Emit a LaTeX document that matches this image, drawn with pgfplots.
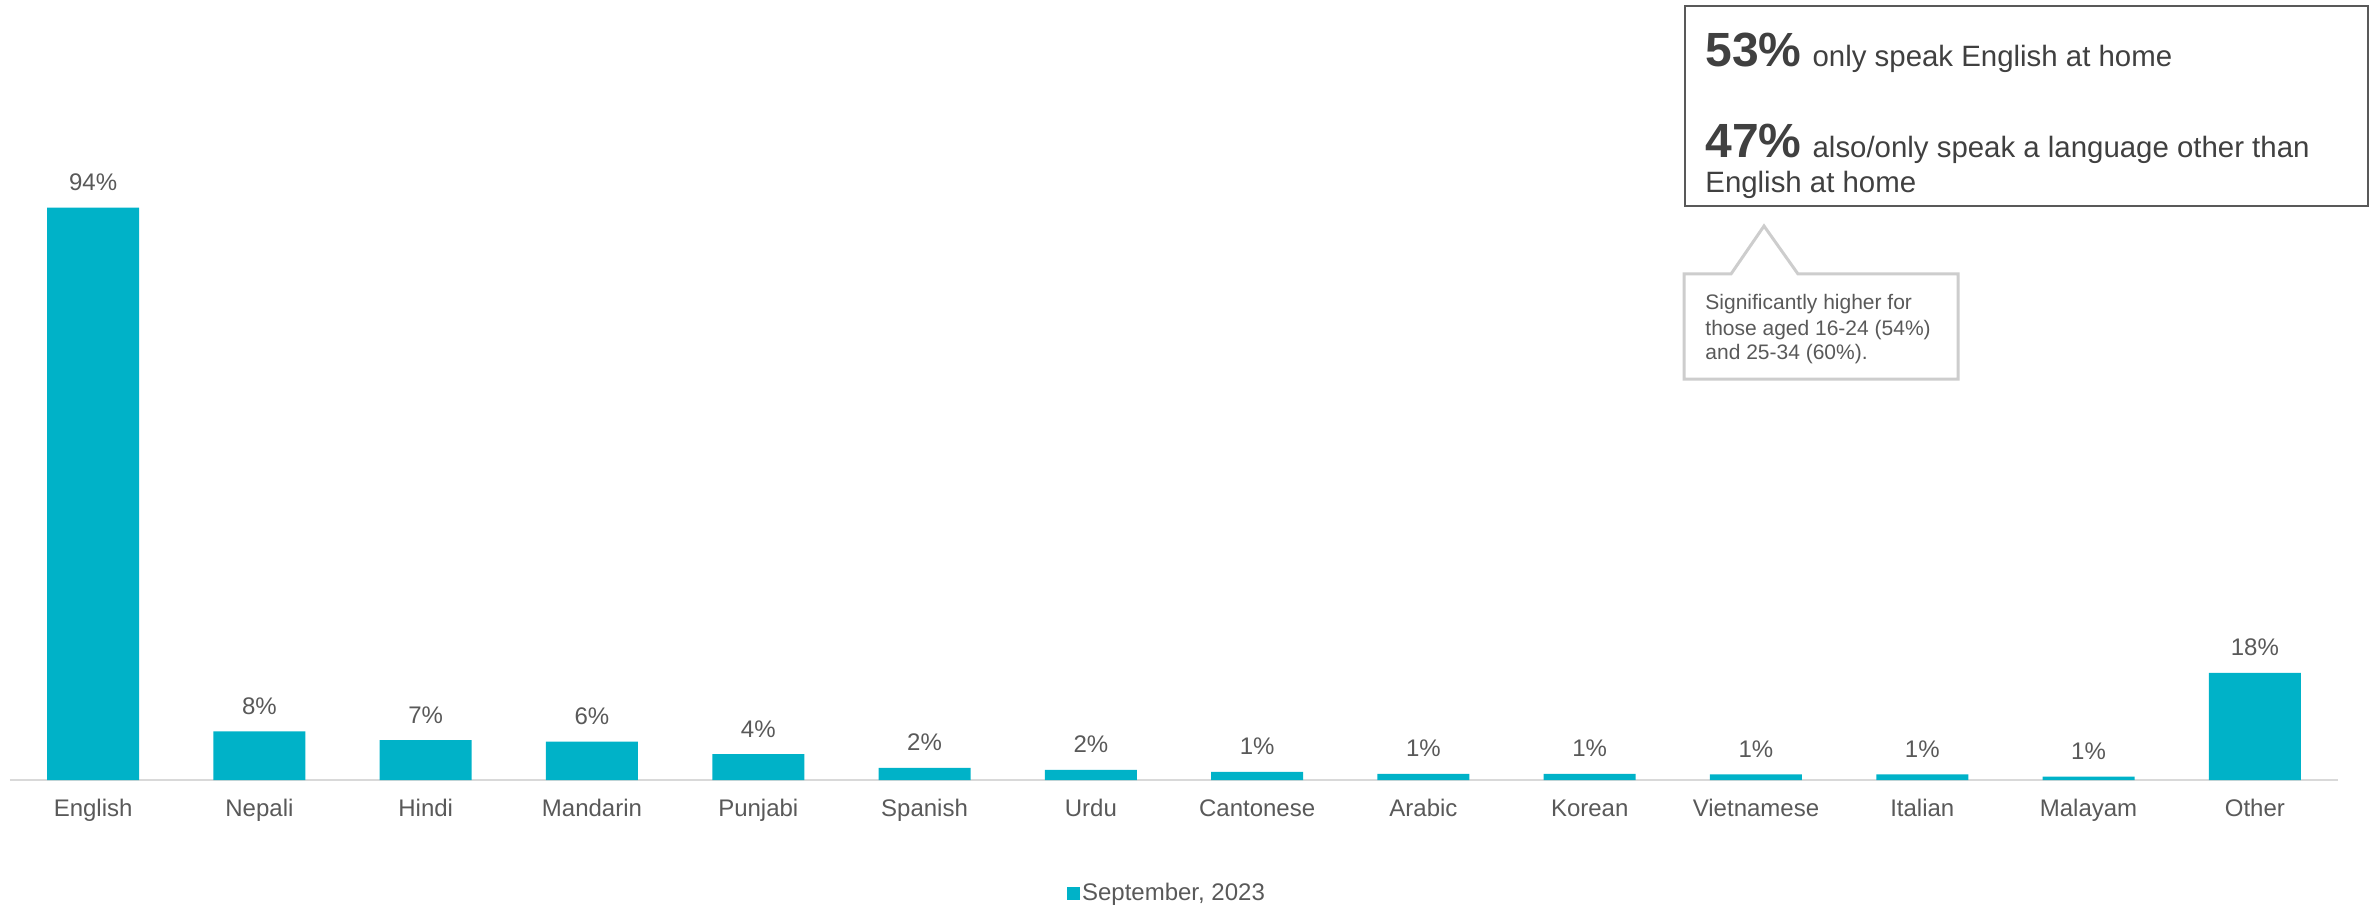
\documentclass[border=0pt]{standalone}
\usepackage{fontspec}
\setmainfont{Liberation Sans}
\usepackage{pgfplots}
\pgfplotsset{compat=1.18}

\definecolor{barteal}{RGB}{0,178,200}
\definecolor{labelgrey}{RGB}{89,89,89}
\definecolor{darktext}{RGB}{64,64,64}
\definecolor{axisgrey}{RGB}{217,217,217}
\definecolor{calloutgrey}{RGB}{205,205,205}

\begin{document}
\begin{tikzpicture}
% fixed page: 2374 x 907 px at 0.5pt per px
\path[use as bounding box] (0,0) rectangle (1187pt,453.5pt);

\begin{axis}[
  at={(5pt,63.5pt)}, anchor=south west,
  scale only axis,
  width=1164pt, height=304.5pt,
  xmin=-0.5, xmax=13.5, ymin=0, ymax=100,
  enlargelimits=false,
  axis y line=none,
  axis x line*=bottom,
  x axis line style={draw=axisgrey, line width=1pt},
  ytick=\empty,
  xtick={0,...,13},
  xticklabels={English,Nepali,Hindi,Mandarin,Punjabi,Spanish,Urdu,Cantonese,Arabic,Korean,Vietnamese,Italian,Malayam,Other},
  major tick length=0pt,
  xtick style={draw=none},
  xticklabel style={font=\fontsize{12}{14}\selectfont, text=labelgrey, anchor=base, inner sep=0pt, yshift=-18.25pt},
  /pgf/number format/assume math mode=true,
  ybar, bar width=46pt,
  nodes near coords={\pgfmathprintnumber[fixed,precision=0]{\pgfplotspointmeta}\%},
  every node near coord/.append style={font=\fontsize{12}{14}\selectfont, text=labelgrey, anchor=base, inner sep=0pt, yshift=8.5pt},
  legend style={at={(0.5,-0.1856)}, anchor=center, xshift=-3.5pt, draw=none, fill=none, inner sep=0pt,
    font=\fontsize{12}{14}\selectfont, text=labelgrey, nodes={inner sep=1.25pt}},
  legend image code/.code={\fill[barteal] (0pt,-3.25pt) rectangle (6.5pt,3.25pt);},
  clip=false,
]
\addplot[fill=barteal, draw=none] coordinates {
  (0,94) (1,8.0) (2,6.55) (3,6.3) (4,4.25) (5,2.0) (6,1.67)
  (7,1.33) (8,1.0) (9,1.0) (10,0.93) (11,0.93) (12,0.55) (13,17.6)
};
\addlegendentry{September, 2023}
\end{axis}

% call-out boxes, in pixel units measured from the top-left corner
\begin{scope}[x=0.5pt, y=-0.5pt, yshift=453.5pt]
  \draw[draw=labelgrey, line width=0.9pt] (1685,6) rectangle (2368,206);
  \node[anchor=base west, inner sep=0pt, text=darktext, font=\fontsize{14.7}{17}\selectfont]
    at (1705,67) {{\fontsize{24}{28}\selectfont\bfseries 53\%}\hspace{1.5pt} only speak English at home};
  \node[anchor=base west, inner sep=0pt, text=darktext, font=\fontsize{14.7}{17}\selectfont]
    at (1705,158) {{\fontsize{24}{28}\selectfont\bfseries 47\%}\hspace{1.5pt} also/only speak a language other than};
  \node[anchor=base west, inner sep=0pt, text=darktext, font=\fontsize{14.7}{17}\selectfont]
    at (1705,193) {English at home};

  \draw[draw=calloutgrey, line width=1.5pt, line join=miter]
    (1684,274) -- (1731,274) -- (1764,226) -- (1798,274) -- (1958,274)
    -- (1958,379) -- (1684,379) -- cycle;
  \node[anchor=base west, inner sep=0pt, text=labelgrey, font=\fontsize{10.5}{12.5}\selectfont]
    at (1705,310) {Significantly higher for};
  \node[anchor=base west, inner sep=0pt, text=labelgrey, font=\fontsize{10.5}{12.5}\selectfont]
    at (1705,335) {those aged 16-24 (54\%)};
  \node[anchor=base west, inner sep=0pt, text=labelgrey, font=\fontsize{10.5}{12.5}\selectfont]
    at (1705,360) {and 25-34 (60\%).};
\end{scope}
\end{tikzpicture}
\end{document}
